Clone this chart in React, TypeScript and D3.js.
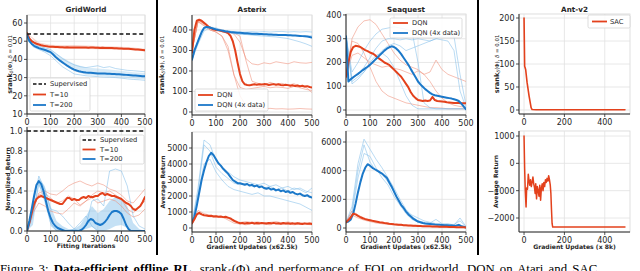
import React from 'react';
import * as d3 from 'd3';

// ---------- shared x grids ----------
const X10 = d3.range(0, 501, 10);
const X25 = d3.range(0, 501, 25);
const X50 = d3.range(0, 501, 50);

// ---------- tick labels ----------
const iterTicks = [0, 100, 200, 300, 400, 500];
const gwRankTicks = [10, 20, 30, 40, 50, 60];
const gwReturnTicks = [0, 0.2, 0.4, 0.6, 0.8, 1.0];
const axRankTicks = [0, 100, 200, 300, 400];
const axReturnTicks = [0, 1000, 2000, 3000, 4000, 5000];
const sqRankTicks = [0, 100, 200, 300, 400];
const sqReturnTicks = [0, 2000, 4000, 6000];
const antXTicks = [0, 200, 400];
const antRankTicks = [0, 50, 100, 150, 200];
const antReturnTicks = [-2000, -1000, 0, 1000];

// ---------- legends / titles ----------
const gwLegend = ['Supervised', 'T=10', 'T=200'];
const atariLegend = ['DQN', 'DQN (4x data)'];
const antLegend = ['SAC'];
const titles = ['GridWorld', 'Asterix', 'Seaquest', 'Ant-v2'];

// ---------- GridWorld: srank ----------
const gwSupervisedRank = 54;
const gwRankT10 = [54.5, 51.5, 50.0, 49.2, 48.6, 48.2, 47.8, 47.5, 47.3, 47.1, 47.0, 46.9, 46.8, 46.8, 46.7, 46.7, 46.6, 46.7, 46.6, 46.5, 46.6, 46.5, 46.6, 46.5, 46.6, 46.5, 46.4, 46.5, 46.5, 46.4, 46.4, 46.3, 46.4, 46.3, 46.2, 46.3, 46.2, 46.1, 46.1, 46.0, 46.0, 45.9, 45.8, 45.8, 45.7, 45.6, 45.5, 45.4, 45.3, 45.2, 45.0];
const gwRankT10Hi = [54.5, 49.3, 48.0, 47.8, 47.9, 47.6, 47.4, 47.2, 46.9, 46.6, 45.9];
const gwRankT10Lo = [54.5, 47.6, 46.3, 46.0, 45.8, 45.7, 45.6, 45.4, 45.3, 45.0, 44.3];
const gwRankT200 = [53.5, 50.0, 48.5, 47.5, 46.8, 46.2, 45.8, 45.4, 45.0, 44.5, 44.0, 42.8, 41.5, 40.4, 39.3, 38.4, 37.5, 36.6, 35.8, 35.0, 34.4, 33.9, 33.5, 33.2, 33.0, 32.8, 32.7, 32.6, 32.5, 32.4, 32.3, 32.3, 32.2, 32.2, 32.1, 32.1, 32.0, 32.0, 31.9, 31.8, 31.7, 31.6, 31.5, 31.4, 31.3, 31.2, 31.1, 31.0, 30.9, 30.8, 30.7];
const gwRankT200Hi = [53.5, 47.5, 45.5, 41.0, 37.5, 35.5, 35.0, 34.5, 33.8, 33.0, 32.5];
const gwRankT200Lo = [53.5, 45.5, 43.0, 38.0, 33.5, 31.5, 31.0, 30.5, 30.0, 29.5, 29.0];
const gwRankT200RunA = [53.5, 48.5, 47.0, 46.5, 45.5, 43.0, 40.5, 38.5, 37.0, 36.0, 35.5, 36.0, 36.5, 35.5, 36.0, 35.0, 34.5, 34.0, 33.8, 33.5, 33.2];
const gwRankT200RunB = [53.5, 47.0, 45.5, 44.0, 42.0, 39.0, 36.0, 34.0, 32.0, 31.5, 31.0, 30.8, 30.5, 30.3, 30.2, 30.0, 29.7, 29.3, 29.0, 28.8, 28.5];

// ---------- GridWorld: normalized return ----------
const gwSupervisedReturn = 1.0;
const gwRetT10 = [0, 0.08, 0.18, 0.27, 0.32, 0.34, 0.35, 0.34, 0.33, 0.32, 0.31, 0.30, 0.29, 0.28, 0.27, 0.27, 0.30, 0.33, 0.33, 0.31, 0.32, 0.31, 0.31, 0.33, 0.34, 0.33, 0.35, 0.34, 0.34, 0.35, 0.35, 0.37, 0.38, 0.36, 0.37, 0.36, 0.35, 0.35, 0.34, 0.33, 0.32, 0.30, 0.28, 0.27, 0.25, 0.22, 0.21, 0.23, 0.25, 0.29, 0.34];
const gwRetT10RunA = [0, 0.20, 0.38, 0.40, 0.37, 0.36, 0.40, 0.45, 0.48, 0.50, 0.47, 0.45, 0.48, 0.46, 0.42, 0.40, 0.36, 0.30, 0.28, 0.35, 0.42];
const gwRetT10RunB = [0, 0.18, 0.28, 0.25, 0.20, 0.18, 0.17, 0.22, 0.28, 0.25, 0.30, 0.33, 0.28, 0.30, 0.32, 0.30, 0.25, 0.18, 0.14, 0.16, 0.22];
const gwRetT10RunC = [0, 0.22, 0.36, 0.38, 0.33, 0.28, 0.30, 0.35, 0.32, 0.26, 0.30, 0.36, 0.40, 0.38, 0.40, 0.36, 0.32, 0.22, 0.18, 0.24, 0.30];
const gwRetT200 = [0, 0.10, 0.22, 0.35, 0.46, 0.50, 0.47, 0.40, 0.30, 0.20, 0.13, 0.08, 0.05, 0.03, 0.02, 0.01, 0, 0, 0, 0, 0, 0, 0, 0.01, 0.03, 0.06, 0.10, 0.12, 0.11, 0.08, 0.07, 0.06, 0.07, 0.09, 0.12, 0.16, 0.19, 0.20, 0.20, 0.19, 0.17, 0.12, 0.06, 0.02, 0, 0, 0, 0, 0, 0, 0];
const gwRetT200Hi = [0, 0.18, 0.53, 0.45, 0.25, 0.10, 0.05, 0.02, 0.02, 0.06, 0.15, 0.25, 0.18, 0.22, 0.30, 0.34, 0.33, 0.25, 0.08, 0.02, 0];
const gwRetT200Lo = [0, 0.06, 0.45, 0.35, 0.05, 0, 0, 0, 0, 0, 0.02, 0.04, 0, 0, 0.02, 0.05, 0.06, 0.03, 0, 0, 0];
const gwRetT200RunA = [0, 0.25, 0.55, 0.42, 0.22, 0.20, 0.15, 0.08, 0.02, 0, 0.05, 0.30, 0.32, 0.25, 0.60, 0.62, 0.60, 0.45, 0.15, 0.05, 0.02];
const gwRetT200RunB = [0, 0.15, 0.48, 0.30, 0.08, 0, 0, 0, 0.02, 0.08, 0.15, 0.05, 0, 0, 0, 0, 0, 0, 0, 0, 0];

// ---------- Asterix: srank ----------
const axRankDqn = [290, 400, 445, 450, 445, 435, 425, 415, 408, 402, 400, 398, 396, 393, 390, 385, 372, 345, 300, 240, 185, 150, 135, 132, 130, 133, 135, 133, 135, 134, 136, 135, 132, 134, 136, 133, 135, 132, 130, 133, 131, 128, 130, 127, 129, 126, 128, 124, 126, 122, 120];
const axRank4x = [255, 300, 330, 360, 390, 410, 415, 413, 410, 406, 403, 400, 398, 396, 393, 392, 390, 389, 388, 387, 386, 385, 384, 384, 383, 382, 381, 381, 380, 380, 379, 379, 378, 378, 377, 377, 376, 376, 375, 375, 374, 374, 373, 373, 372, 371, 370, 369, 368, 366, 363];
const axRankDqnRunA = [300, 445, 430, 410, 400, 395, 390, 380, 340, 260, 235, 230, 240, 235, 245, 240, 235, 245, 240, 238, 242];
const axRankDqnRunB = [300, 440, 425, 400, 390, 370, 300, 180, 80, 30, 20, 18, 15, 18, 15, 16, 14, 15, 17, 15, 14];
const axRankDqnRunC = [300, 450, 430, 415, 400, 395, 390, 385, 370, 250, 150, 140, 130, 145, 135, 140, 130, 138, 125, 120, 95];
const axRankDqnRunD = [300, 440, 420, 400, 390, 370, 320, 180, 120, 110, 115, 120, 125, 118, 122, 120, 115, 125, 118, 110, 105];
const axRank4xRunA = [255, 350, 405, 415, 410, 400, 395, 392, 390, 390, 392, 390, 392, 390, 392, 393, 390, 392, 390, 392, 390];
const axRank4xRunB = [255, 330, 395, 410, 405, 395, 390, 385, 380, 378, 375, 372, 370, 368, 366, 362, 358, 350, 342, 332, 320];
const axRank4xRunC = [255, 340, 410, 412, 402, 392, 386, 382, 380, 378, 378, 376, 377, 375, 376, 374, 375, 373, 372, 370, 372];

// ---------- Asterix: average return ----------
const axRet4x = [300, 700, 1400, 2200, 3000, 3600, 4100, 4500, 4700, 4550, 4300, 4050, 3900, 3700, 3550, 3400, 3200, 3000, 2900, 2800, 2800, 2750, 2700, 2750, 2650, 2700, 2600, 2650, 2550, 2600, 2500, 2450, 2500, 2400, 2450, 2350, 2400, 2300, 2350, 2250, 2300, 2200, 2250, 2150, 2100, 2150, 2050, 2000, 2050, 1950, 1900];
const axRetDqn = [300, 550, 850, 950, 850, 800, 780, 750, 760, 720, 730, 700, 720, 680, 700, 650, 600, 500, 420, 350, 300, 320, 280, 310, 290, 330, 280, 310, 290, 320, 300, 280, 310, 290, 320, 280, 300, 270, 310, 280, 300, 270, 290, 260, 300, 270, 250, 290, 260, 280, 250];
const axRet4xRunA = [300, 2500, 5500, 5200, 4200, 3800, 3500, 3200, 3000, 2900, 2800, 2700, 2800, 2600, 2700, 2500, 2600, 2400, 2500, 2300, 2200];
const axRet4xRunB = [300, 2000, 4000, 4300, 3500, 3000, 2600, 2400, 2300, 2200, 2100, 2200, 2000, 2000, 1900, 1800, 1700, 1600, 1500, 1300, 1100];
const axRet4xRunC = [300, 2200, 5200, 4800, 3800, 3400, 3100, 2800, 2700, 2800, 2600, 2700, 2500, 2600, 2400, 2500, 2300, 2500, 2400, 2200, 2500];
const axRetDqnRunA = [300, 1100, 900, 800, 750, 700, 500, 300, 250, 200, 280, 220, 250, 200, 300, 220, 260, 200, 250, 230, 200];
const axRetDqnRunB = [300, 900, 800, 700, 700, 650, 600, 400, 350, 400, 350, 380, 300, 350, 400, 320, 380, 300, 350, 280, 320];

// ---------- Seaquest: srank ----------
const sqRankDqn = [140, 200, 245, 265, 270, 268, 265, 258, 252, 248, 242, 238, 232, 222, 215, 208, 200, 195, 190, 180, 170, 160, 150, 140, 125, 110, 95, 75, 60, 50, 42, 40, 38, 40, 38, 40, 55, 42, 38, 37, 36, 35, 33, 32, 31, 30, 30, 29, 28, 28, 28];
const sqRank4x = [310, 120, 130, 138, 145, 152, 160, 168, 175, 182, 190, 200, 210, 220, 230, 240, 250, 258, 264, 268, 265, 258, 248, 235, 220, 205, 190, 172, 155, 138, 120, 108, 98, 88, 80, 72, 66, 62, 60, 58, 56, 54, 52, 50, 48, 45, 42, 38, 28, 15, 3];
const sqRankDqnRunA = [140, 300, 350, 375, 380, 360, 320, 280, 240, 210, 190, 180, 170, 150, 120, 80, 50, 30, 20, 15, 10];
const sqRankDqnRunB = [140, 230, 240, 220, 200, 190, 180, 185, 175, 170, 160, 150, 165, 150, 160, 210, 170, 150, 140, 130, 120];
const sqRankDqnRunC = [140, 290, 280, 240, 180, 120, 80, 60, 50, 40, 30, 25, 20, 15, 10, 10, 8, 5, 5, 5, 5];
const sqRank4xRunA = [310, 160, 200, 250, 290, 320, 340, 345, 350, 345, 340, 330, 200, 30, 10, 5, 5, 5, 5, 5, 5];
const sqRank4xRunB = [310, 130, 150, 180, 220, 260, 290, 300, 300, 295, 300, 295, 300, 295, 290, 300, 295, 290, 250, 80, 10];
const sqRank4xRunC = [310, 120, 140, 160, 190, 220, 250, 270, 280, 270, 250, 260, 270, 280, 290, 300, 310, 320, 310, 150, 20];
const sqRank4xRunD = [310, 110, 130, 160, 200, 230, 240, 220, 180, 120, 60, 20, 5, 5, 5, 5, 5, 5, 5, 5, 5];

// ---------- Seaquest: average return ----------
const sqRet4x = [400, 450, 600, 1000, 1700, 2500, 3200, 3800, 4200, 4450, 4350, 4200, 4100, 4000, 3900, 3800, 3650, 3500, 3200, 2900, 2550, 2200, 1900, 1600, 1400, 1150, 950, 800, 650, 550, 450, 400, 350, 320, 300, 280, 260, 240, 230, 220, 210, 200, 190, 180, 170, 160, 180, 220, 130, 90, 40];
const sqRetDqn = [400, 550, 750, 1000, 950, 850, 750, 680, 620, 580, 540, 500, 470, 440, 400, 380, 350, 330, 300, 280, 260, 250, 230, 220, 200, 190, 180, 170, 160, 150, 140, 135, 130, 125, 120, 115, 110, 105, 100, 95, 90, 85, 80, 75, 70, 65, 60, 55, 50, 45, 40];
const sqRet4xRunA = [400, 1500, 4500, 6200, 5500, 4800, 4200, 3500, 2800, 2000, 1300, 800, 500, 400, 350, 600, 300, 250, 250, 500, 100];
const sqRet4xRunB = [400, 1000, 3500, 5200, 5000, 4200, 3500, 3000, 2200, 1600, 1000, 600, 400, 300, 250, 250, 200, 200, 150, 200, 50];
const sqRet4xRunC = [400, 1200, 4000, 5800, 4600, 4000, 3800, 3200, 2500, 1800, 1200, 900, 700, 500, 400, 300, 250, 300, 200, 700, 100];
const sqRetDqnRunA = [400, 1200, 900, 700, 550, 400, 350, 300, 250, 200, 180, 150, 130, 120, 100, 90, 80, 70, 60, 50, 40];
const sqRetDqnRunB = [400, 900, 700, 550, 450, 350, 300, 250, 220, 180, 150, 140, 120, 100, 90, 80, 70, 60, 50, 40, 30];

// ---------- Ant-v2 ----------
const antRankX = [0, 3, 8, 15, 25, 35, 40, 60, 100, 200, 300, 400, 500];
const antRankY = [200, 95, 88, 60, 30, 5, 1, 0.5, 0.5, 0.5, 0.5, 0.5, 0.5];
const antRetX = [0, 3, 6, 10, 13, 17, 21, 25, 28, 32, 36, 40, 44, 48, 52, 55, 58, 62, 66, 70, 74, 78, 82, 86, 90, 94, 98, 102, 106, 110, 114, 118, 122, 126, 130, 133, 136, 139, 142, 500];
const antRetY = [1000, -200, -1000, -1600, -900, -950, -400, -650, -800, -600, -850, -700, -500, -750, -900, -1100, -750, -1300, -850, -1000, -1200, -800, -1350, -900, -750, -1000, -700, -850, -600, -700, -550, -650, -450, -600, -800, -1100, -1700, -2200, -2330, -2330];

// ---------- style ----------
const RED = '#e3411c';
const BLUE = '#1b78c9';
const FRED = '#ee8a74';
const FBLUE = '#7fbce8';
const INK = '#262626';
const GRID = '#e2e2e2';
const FONT = '"DejaVu Sans", sans-serif';

type Frame = { x0: number; x1: number; y0: number; y1: number };
type LineSpec = { x: number[]; y: number[]; c: string; w: number; o?: number; dash?: string };
type BandSpec = { x: number[]; lo: number[]; hi: number[]; c: string; o: number };
type LegendItem = { label: string; c: string; dash?: string };
type LegendSpec = { x: number; y: number; w: number; h: number; rows: number[]; lx0: number; lx1: number; tx: number; items: LegendItem[] };

const faint = (x: number[], y: number[], c: string): LineSpec => ({ x, y, c, w: 0.9, o: 0.6 });
const main = (x: number[], y: number[], c: string): LineSpec => ({ x, y, c, w: 2 });

function Panel(p: {
  id: string; f: Frame; xd: [number, number]; yd: [number, number]; xt: number[]; yt: number[];
  yfmt?: (v: number) => string; bands?: BandSpec[]; lines: LineSpec[]; title?: string; xlabel?: string;
  ylabel?: React.ReactNode; ylabelX?: number; legend?: LegendSpec;
}) {
  const { id, f, xd, yd, xt, yt, yfmt = (v: number) => d3.format('d')(v), bands = [], lines, title, xlabel, ylabel, ylabelX, legend } = p;
  const xs = d3.scaleLinear().domain(xd).range([f.x0, f.x1]);
  const ys = d3.scaleLinear().domain(yd).range([f.y1, f.y0]);
  const line = d3.line<[number, number]>().x(d => xs(d[0])).y(d => ys(d[1]));
  const area = d3.area<[number, number, number]>().x(d => xs(d[0])).y0(d => ys(d[1])).y1(d => ys(d[2]));
  const cx = (f.x0 + f.x1) / 2;
  const cy = (f.y0 + f.y1) / 2;
  return (
    <g>
      <clipPath id={id}><rect x={f.x0} y={f.y0} width={f.x1 - f.x0} height={f.y1 - f.y0} /></clipPath>
      <rect x={f.x0} y={f.y0} width={f.x1 - f.x0} height={f.y1 - f.y0} fill="#fff" stroke="#d6d6d6" strokeWidth={0.8} />
      {xt.map(t => <line key={'gx' + t} x1={xs(t)} x2={xs(t)} y1={f.y0} y2={f.y1} stroke={GRID} strokeWidth={0.8} />)}
      {yt.map(t => <line key={'gy' + t} x1={f.x0} x2={f.x1} y1={ys(t)} y2={ys(t)} stroke={GRID} strokeWidth={0.8} />)}
      <g clipPath={`url(#${id})`}>
        {bands.map((b, i) => (
          <path key={'b' + i} d={area(b.x.map((x, j) => [x, b.lo[j], b.hi[j]] as [number, number, number])) || ''} fill={b.c} opacity={b.o} />
        ))}
        {lines.map((l, i) => (
          <path key={'l' + i} d={line(l.x.map((x, j) => [x, l.y[j]] as [number, number])) || ''} fill="none" stroke={l.c}
            strokeWidth={l.w} opacity={l.o ?? 1} strokeDasharray={l.dash} strokeLinejoin="round" strokeLinecap={l.dash ? 'butt' : 'round'} />
        ))}
      </g>
      <line x1={f.x0} x2={f.x0} y1={f.y0} y2={f.y1} stroke={INK} strokeWidth={1} />
      <line x1={f.x0} x2={f.x1} y1={f.y1} y2={f.y1} stroke={INK} strokeWidth={1} />
      {xt.map(t => (
        <g key={'tx' + t}>
          <line x1={xs(t)} x2={xs(t)} y1={f.y1} y2={f.y1 + 3} stroke={INK} strokeWidth={0.8} />
          <text x={xs(t)} y={f.y1 + 10.5} textAnchor="middle" fontSize={8} fontFamily={FONT} fill={INK}>{d3.format('d')(t)}</text>
        </g>
      ))}
      {yt.map(t => (
        <g key={'ty' + t}>
          <line x1={f.x0 - 3} x2={f.x0} y1={ys(t)} y2={ys(t)} stroke={INK} strokeWidth={0.8} />
          <text x={f.x0 - 4.5} y={ys(t) + 2.9} textAnchor="end" fontSize={8} fontFamily={FONT} fill={INK}>{yfmt(t)}</text>
        </g>
      ))}
      {title && <text x={cx} y={12.3} textAnchor="middle" fontSize={7.2} fontWeight="bold" fontFamily={FONT} fill={INK}>{title}</text>}
      {xlabel && <text x={cx} y={f.y1 + 17} textAnchor="middle" fontSize={6.1} fontWeight="bold" fontFamily={FONT} fill={INK}>{xlabel}</text>}
      {ylabel && ylabelX !== undefined && (
        <text transform={`translate(${ylabelX},${cy}) rotate(-90)`} textAnchor="middle" fontSize={6} fontWeight="bold" fontFamily={FONT} fill={INK}>{ylabel}</text>
      )}
      {legend && (
        <g>
          <rect x={legend.x} y={legend.y} width={legend.w} height={legend.h} rx={1.5} fill="#fff" fillOpacity={0.85} stroke="#cfcfcf" strokeWidth={0.7} />
          {legend.items.map((it, i) => (
            <g key={'lg' + i}>
              <line x1={legend.x + legend.lx0} x2={legend.x + legend.lx1} y1={legend.y + legend.rows[i]} y2={legend.y + legend.rows[i]}
                stroke={it.c} strokeWidth={it.dash ? 1.5 : 1.8} strokeDasharray={it.dash} />
              <text x={legend.x + legend.tx} y={legend.y + legend.rows[i] + 2.3} fontSize={6.7} fontFamily={FONT} fill={INK}>{it.label}</text>
            </g>
          ))}
        </g>
      )}
    </g>
  );
}

const srankLabel = (
  <>
    <tspan fontWeight="bold" fontSize={6.6}>srank</tspan>
    <tspan fontWeight="normal" fontStyle="italic" fontSize={4.6} dy={1.4}>δ</tspan>
    <tspan fontWeight="normal" fontSize={5.4} dy={-1.4}>(Φ), </tspan>
    <tspan fontWeight="normal" fontStyle="italic" fontSize={5.4}>δ</tspan>
    <tspan fontWeight="normal" fontSize={5.4}> = 0.01</tspan>
  </>
);

export default function App() {
  const sup = (v: number): LineSpec => ({ x: [0, 500], y: [v, v], c: '#111', w: 1.6, dash: '4,2.6' });
  const atariItems: LegendItem[] = [{ label: atariLegend[0], c: RED }, { label: atariLegend[1], c: BLUE }];
  const gwItems: LegendItem[] = [{ label: gwLegend[0], c: '#111', dash: '3.5,2' }, { label: gwLegend[1], c: RED }, { label: gwLegend[2], c: BLUE }];
  return (
    <svg width={640} height={271} style={{ position: 'absolute', left: 0, top: 0, background: '#fff' }}>
      <rect x={0} y={0} width={640} height={271} fill="#fff" />
      {/* GridWorld */}
      <Panel id="c1" f={{ x0: 27, x1: 145, y0: 15, y1: 114 }} xd={[0, 500]} yd={[10, 64.4]} xt={iterTicks} yt={gwRankTicks}
        title={titles[0]} ylabel={srankLabel} ylabelX={11.5}
        bands={[{ x: X50, lo: gwRankT10Lo, hi: gwRankT10Hi, c: FRED, o: 0.35 }, { x: X50, lo: gwRankT200Lo, hi: gwRankT200Hi, c: FBLUE, o: 0.3 }]}
        lines={[faint(X25, gwRankT200RunA, FBLUE), faint(X25, gwRankT200RunB, FBLUE), main(X10, gwRankT10, RED), main(X10, gwRankT200, BLUE), sup(gwSupervisedRank)]}
        legend={{ x: 30, y: 78, w: 60, h: 33, rows: [6, 16.5, 27], lx0: 3, lx1: 16, tx: 20, items: gwItems }} />
      <Panel id="c2" f={{ x0: 27, x1: 145, y0: 127, y1: 231 }} xd={[0, 500]} yd={[0, 1.04]} xt={iterTicks} yt={gwReturnTicks}
        yfmt={d3.format('.1f')} xlabel="Fitting Iterations" ylabel="Normalized Return" ylabelX={9.5}
        bands={[{ x: X25, lo: gwRetT200Lo, hi: gwRetT200Hi, c: FBLUE, o: 0.45 }]}
        lines={[faint(X25, gwRetT10RunA, FRED), faint(X25, gwRetT10RunB, FRED), faint(X25, gwRetT10RunC, FRED),
          faint(X25, gwRetT200RunA, FBLUE), faint(X25, gwRetT200RunB, FBLUE), main(X10, gwRetT10, RED), main(X10, gwRetT200, BLUE), sup(gwSupervisedReturn)]}
        legend={{ x: 80, y: 135, w: 64, h: 29, rows: [5, 14.5, 24], lx0: 2.5, lx1: 15.5, tx: 20, items: gwItems }} />
      {/* Asterix */}
      <Panel id="c3" f={{ x0: 192, x1: 312, y0: 15, y1: 115 }} xd={[0, 500]} yd={[-14.6, 473]} xt={iterTicks} yt={axRankTicks}
        title={titles[1]} ylabel={srankLabel} ylabelX={164}
        lines={[faint(X25, axRankDqnRunA, FRED), faint(X25, axRankDqnRunB, FRED), faint(X25, axRankDqnRunC, FRED), faint(X25, axRankDqnRunD, FRED),
          faint(X25, axRank4xRunA, FBLUE), faint(X25, axRank4xRunB, FBLUE), faint(X25, axRank4xRunC, FBLUE), main(X10, axRankDqn, RED), main(X10, axRank4x, BLUE)]}
        legend={{ x: 195, y: 89, w: 73, h: 22, rows: [6, 16], lx0: 3, lx1: 18, tx: 22, items: atariItems }} />
      <Panel id="c4" f={{ x0: 192, x1: 312, y0: 132, y1: 232 }} xd={[0, 500]} yd={[-250, 6000]} xt={iterTicks} yt={axReturnTicks}
        xlabel="Gradient Updates (x62.5k)" ylabel="Average Return" ylabelX={165}
        lines={[faint(X25, axRet4xRunA, FBLUE), faint(X25, axRet4xRunB, FBLUE), faint(X25, axRet4xRunC, FBLUE),
          faint(X25, axRetDqnRunA, FRED), faint(X25, axRetDqnRunB, FRED), main(X10, axRet4x, BLUE), main(X10, axRetDqn, RED)]} />
      {/* Seaquest */}
      <Panel id="c5" f={{ x0: 346, x1: 466, y0: 14, y1: 115 }} xd={[0, 500]} yd={[-21, 404]} xt={iterTicks} yt={sqRankTicks}
        title={titles[2]}
        lines={[faint(X25, sqRankDqnRunA, FRED), faint(X25, sqRankDqnRunB, FRED), faint(X25, sqRankDqnRunC, FRED),
          faint(X25, sqRank4xRunA, FBLUE), faint(X25, sqRank4xRunB, FBLUE), faint(X25, sqRank4xRunC, FBLUE), faint(X25, sqRank4xRunD, FBLUE),
          main(X10, sqRankDqn, RED), main(X10, sqRank4x, BLUE)]}
        legend={{ x: 390, y: 18, w: 72, h: 20, rows: [5, 15], lx0: 3, lx1: 18, tx: 22, items: atariItems }} />
      <Panel id="c6" f={{ x0: 346, x1: 466, y0: 131, y1: 232 }} xd={[0, 500]} yd={[-279, 6768]} xt={iterTicks} yt={sqReturnTicks}
        xlabel="Gradient Updates (x62.5k)"
        lines={[faint(X25, sqRet4xRunA, FBLUE), faint(X25, sqRet4xRunB, FBLUE), faint(X25, sqRet4xRunC, FBLUE),
          faint(X25, sqRetDqnRunA, FRED), faint(X25, sqRetDqnRunB, FRED), main(X10, sqRet4x, BLUE), main(X10, sqRetDqn, RED)]} />
      {/* Ant-v2 */}
      <Panel id="c7" f={{ x0: 519, x1: 630, y0: 14, y1: 114 }} xd={[-25, 525]} yd={[-8.7, 208.7]} xt={antXTicks} yt={antRankTicks}
        title={titles[3]} ylabel={srankLabel} ylabelX={499}
        lines={[{ x: antRankX, y: antRankY, c: RED, w: 1.6 }]}
        legend={{ x: 588, y: 15, w: 42, h: 13, rows: [6.5], lx0: 4, lx1: 19, tx: 22, items: [{ label: antLegend[0], c: RED }] }} />
      <Panel id="c8" f={{ x0: 519, x1: 630, y0: 131, y1: 232 }} xd={[-25, 525]} yd={[-2512, 1183]} xt={antXTicks} yt={antReturnTicks}
        yfmt={d3.format('d')} xlabel="Gradient Updates (x 8k)" ylabel="Average Return" ylabelX={497.5}
        lines={[{ x: antRetX, y: antRetY, c: RED, w: 1.5 }]} />
      {/* separators */}
      <line x1={157} x2={157} y1={0} y2={255} stroke="#000" strokeWidth={2} />
      <line x1={478} x2={478} y1={0} y2={255} stroke="#000" strokeWidth={2} />
      {/* caption (cut off at the bottom edge, as in the reference) */}
      <text x={0} y={272.5} fontFamily='"Liberation Serif", "Times New Roman", serif' fontSize={12.8} fill="#000" wordSpacing={2}>
        Figure 3: <tspan fontWeight="bold">Data-efficient offline RL.</tspan> srank<tspan fontSize={9} dy={2}>δ</tspan><tspan dy={-2}>(Φ) and performance of FQI on gridworld, DQN on Atari and SAC</tspan>
      </text>
    </svg>
  );
}
